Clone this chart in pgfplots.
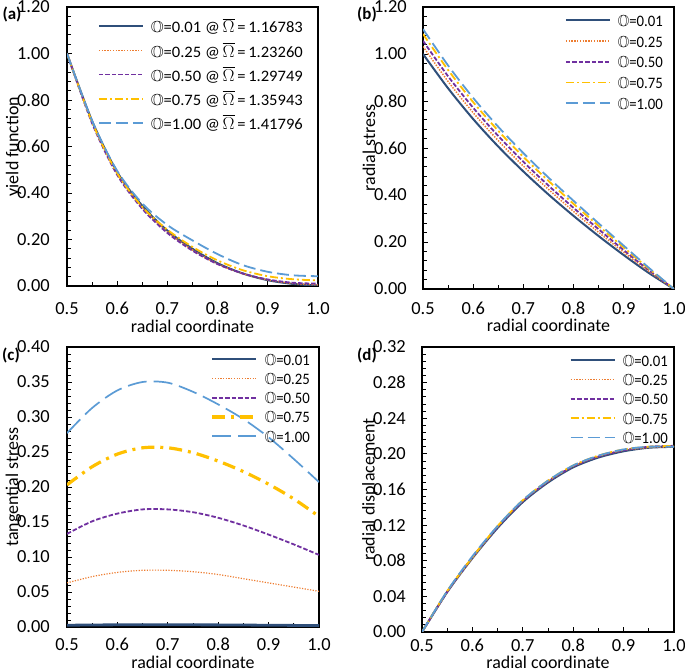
\documentclass[border=0pt]{standalone}
\usepackage{fontspec}
\setmainfont{Carlito}
\usepackage{amssymb}
\usepackage{graphicx}
\usepackage{pgfplots}
\usepackage{pgfplotstable}
\pgfplotsset{compat=1.18}

\definecolor{c1}{HTML}{2F4F7A}
\definecolor{c2}{HTML}{ED7D31}
\definecolor{c3}{HTML}{7030A0}
\definecolor{c4}{HTML}{FFC000}
\definecolor{c5}{HTML}{5B9BD5}

\newcommand{\lgf}{\fontsize{16}{16}\selectfont\rule[-4.5bp]{0pt}{18bp}}
\newcommand{\la}[2]{\lgf\resizebox{152bp}{\height}{$\mathbb{O}$=#1\ @\,$\overline{\Omega}$\,=\,#2}}
\newcommand{\lb}[1]{\lgf\resizebox{45bp}{\height}{$\mathbb{O}$=#1}}

\pgfplotstableread{
r     d1     d2     d3     d4     d5
0.50  1.000  1.000  1.000  1.000  1.000
0.55  0.710  0.705  0.700  0.705  0.710
0.60  0.490  0.483  0.478  0.485  0.495
0.65  0.345  0.338  0.332  0.340  0.355
0.70  0.238  0.232  0.228  0.242  0.262
0.75  0.160  0.155  0.152  0.168  0.196
0.80  0.098  0.095  0.094  0.110  0.137
0.85  0.054  0.053  0.054  0.068  0.090
0.90  0.025  0.026  0.028  0.042  0.061
0.95  0.009  0.011  0.014  0.029  0.046
1.00  0.002  0.005  0.010  0.024  0.042
}\tabA

\pgfplotstableread{
r     d1     d2     d3     d4     d5
0.50  1.000  1.032  1.056  1.085  1.106
0.55  0.854  0.883  0.905  0.932  0.951
0.60  0.723  0.750  0.771  0.795  0.813
0.65  0.606  0.631  0.651  0.673  0.690
0.70  0.500  0.523  0.541  0.562  0.578
0.75  0.402  0.424  0.440  0.460  0.474
0.80  0.311  0.330  0.345  0.362  0.375
0.85  0.225  0.241  0.254  0.268  0.279
0.90  0.144  0.156  0.165  0.176  0.184
0.95  0.068  0.075  0.080  0.086  0.090
1.00  0.000  0.000  0.000  0.000  0.000
}\tabB

\pgfplotstableread{
r     d1      d2     d3     d4     d5
0.50  0.0025  0.063  0.133  0.203  0.277
0.55  0.0029  0.072  0.151  0.229  0.313
0.60  0.0031  0.078  0.162  0.247  0.338
0.65  0.0032  0.081  0.168  0.256  0.350
0.70  0.0032  0.081  0.168  0.256  0.349
0.75  0.0031  0.079  0.164  0.249  0.336
0.80  0.0030  0.075  0.156  0.237  0.318
0.85  0.0028  0.069  0.145  0.222  0.297
0.90  0.0025  0.063  0.132  0.204  0.271
0.95  0.0023  0.057  0.118  0.183  0.240
1.00  0.0020  0.051  0.103  0.158  0.207
}\tabC

\pgfplotstableread{
r     d1     d2     d3     d4     d5
0.50  0.000  0.000  0.000  0.000  0.000
0.55  0.045  0.045  0.045  0.046  0.046
0.60  0.083  0.083  0.084  0.084  0.085
0.65  0.117  0.118  0.118  0.119  0.119
0.70  0.146  0.147  0.147  0.148  0.148
0.75  0.168  0.169  0.169  0.170  0.170
0.80  0.185  0.186  0.186  0.187  0.187
0.85  0.196  0.197  0.197  0.198  0.198
0.90  0.203  0.204  0.204  0.205  0.205
0.95  0.207  0.207  0.208  0.208  0.208
1.00  0.208  0.208  0.209  0.209  0.208
}\tabD

\pgfplotsset{
  panel/.style={
    scale only axis,
    xmin=0.5, xmax=1.0,
    xtick={0.5,0.6,0.7,0.8,0.9,1.0},
    minor x tick num=1,
    minor y tick num=4,
    tick pos=left,
    tick align=inside,
    major tick length=5bp,
    minor tick length=4bp,
    tick style={black, line width=0.8bp},
    axis line style={black, line width=1.6bp},
    ticklabel style={font=\fontsize{18.5}{18.5}\selectfont, inner sep=1bp},
    /pgf/number format/assume math mode=true,
    x tick label style={/pgf/number format/fixed, /pgf/number format/fixed zerofill, /pgf/number format/precision=1},
    y tick label style={/pgf/number format/fixed, /pgf/number format/fixed zerofill, /pgf/number format/precision=2},
    label style={font=\fontsize{18}{18}\selectfont, inner sep=0pt},
    legend style={draw=none, fill=none, inner sep=0pt,
      font=\fontsize{16}{16}\selectfont,
      /tikz/every odd column/.style={column sep=5bp},
      at={(1,1)}, anchor=north east},
    legend cell align=left,
    legend image code/.code={\draw[##1] (0bp,0bp) -- (44bp,0bp);},
    no markers,
  },
  s1/.style={c1, line width=2bp, solid, smooth},
  s2/.style={c2, line width=1.5bp, dash pattern=on 1.4bp off 1.4bp, smooth},
  s3/.style={c3, line width=1.8bp, dash pattern=on 4.5bp off 2bp, smooth},
  s4/.style={c4, line width=1.8bp, dash pattern=on 8bp off 3bp on 2bp off 3bp, smooth},
  s5/.style={c5, line width=1.8bp, dash pattern=on 12bp off 5bp, smooth},
}

\begin{document}
\begin{tikzpicture}
\useasboundingbox (0,0) rectangle (685bp,672bp);

% (a)
\begin{axis}[panel, at={(67bp,386bp)}, anchor=south west,
  width=251bp, height=279bp,
  ymin=0, ymax=1.2, ytick={0,0.2,0.4,0.6,0.8,1.0,1.2},
  xticklabel shift=15bp, yticklabel shift=16bp,
  xlabel={radial coordinate}, ylabel={yield function},
  xlabel style={at={(axis description cs:0.5,-0.143)}, anchor=center},
  ylabel style={at={(axis description cs:-0.213,0.5)}, anchor=center},
  legend style={xshift=-13bp, yshift=-8.7bp, row sep=3.8bp}]
\addplot[s1] table[x=r,y=d1] {\tabA};
\addlegendentry{\la{0.01}{1.16783}}
\addplot[s2] table[x=r,y=d2] {\tabA};
\addlegendentry{\la{0.25}{1.23260}}
\addplot[s3] table[x=r,y=d3] {\tabA};
\addlegendentry{\la{0.50}{1.29749}}
\addplot[s4] table[x=r,y=d4] {\tabA};
\addlegendentry{\la{0.75}{1.35943}}
\addplot[s5] table[x=r,y=d5] {\tabA};
\addlegendentry{\la{1.00}{1.41796}}
\end{axis}

% (b)
\begin{axis}[panel, at={(423bp,383bp)}, anchor=south west,
  width=251bp, height=282bp,
  ymin=0, ymax=1.2, ytick={0,0.2,0.4,0.6,0.8,1.0,1.2},
  xticklabel shift=12bp, yticklabel shift=15bp,
  xlabel={radial coordinate}, ylabel={radial stress},
  xlabel style={at={(axis description cs:0.5,-0.130)}, anchor=center},
  ylabel style={at={(axis description cs:-0.215,0.5)}, anchor=center},
  legend style={xshift=-9bp, yshift=-3.7bp, row sep=1.7bp}]
\addplot[s1] table[x=r,y=d1] {\tabB};
\addlegendentry{\lb{0.01}}
\addplot[s2] table[x=r,y=d2] {\tabB};
\addlegendentry{\lb{0.25}}
\addplot[s3] table[x=r,y=d3] {\tabB};
\addlegendentry{\lb{0.50}}
\addplot[s4] table[x=r,y=d4] {\tabB};
\addlegendentry{\lb{0.75}}
\addplot[s5] table[x=r,y=d5] {\tabB};
\addlegendentry{\lb{1.00}}
\end{axis}

% (c)
\begin{axis}[panel, at={(67bp,45bp)}, anchor=south west,
  width=252bp, height=280bp,
  ymin=0, ymax=0.4, ytick={0,0.05,0.1,0.15,0.2,0.25,0.3,0.35,0.4},
  xticklabel shift=10bp, yticklabel shift=16bp,
  xlabel={radial coordinate}, ylabel={tangential stress},
  xlabel style={at={(axis description cs:0.5,-0.125)}, anchor=center},
  ylabel style={at={(axis description cs:-0.213,0.5)}, anchor=center},
  legend style={xshift=-7bp, yshift=-2.4bp, row sep=0.3bp}]
\addplot[s1, line width=2.8bp] table[x=r,y=d1] {\tabC};
\addlegendentry{\lb{0.01}}
\addplot[s2, line width=1.2bp, dash pattern=on 1.2bp off 1.5bp] table[x=r,y=d2] {\tabC};
\addlegendentry{\lb{0.25}}
\addplot[s3, line width=1.8bp, dash pattern=on 4.5bp off 2bp] table[x=r,y=d3] {\tabC};
\addlegendentry{\lb{0.50}}
\addplot[s4, line width=3.2bp, dash pattern=on 13bp off 6bp on 3bp off 6bp] table[x=r,y=d4] {\tabC};
\addlegendentry{\lb{0.75}}
\addplot[s5, line width=1.7bp, dash pattern=on 19bp off 7bp] table[x=r,y=d5] {\tabC};
\addlegendentry{\lb{1.00}}
\end{axis}

% (d)
\begin{axis}[panel, at={(422bp,40bp)}, anchor=south west,
  width=252bp, height=285bp,
  ymin=0, ymax=0.32, ytick={0,0.04,0.08,0.12,0.16,0.2,0.24,0.28,0.32},
  xticklabel shift=6bp, yticklabel shift=15bp,
  xlabel={radial coordinate}, ylabel={radial displacement},
  xlabel style={at={(axis description cs:0.5,-0.107)}, anchor=center},
  ylabel style={at={(axis description cs:-0.207,0.5)}, anchor=center},
  legend style={xshift=-4bp, yshift=-3.7bp, row sep=0.3bp}]
\addplot[s1, line width=2.2bp] table[x=r,y=d1] {\tabD};
\addlegendentry{\lb{0.01}}
\addplot[s2] table[x=r,y=d2] {\tabD};
\addlegendentry{\lb{0.25}}
\addplot[s3] table[x=r,y=d3] {\tabD};
\addlegendentry{\lb{0.50}}
\addplot[s4] table[x=r,y=d4] {\tabD};
\addlegendentry{\lb{0.75}}
\addplot[s5] table[x=r,y=d5] {\tabD};
\addlegendentry{\lb{1.00}}
\end{axis}

\node[font=\fontsize{17}{17}\selectfont\bfseries] at (12bp,657bp) {(a)};
\node[font=\fontsize{17}{17}\selectfont\bfseries] at (367bp,657bp) {(b)};
\node[font=\fontsize{17}{17}\selectfont\bfseries] at (11bp,316bp) {(c)};
\node[font=\fontsize{17}{17}\selectfont\bfseries] at (367bp,316bp) {(d)};
\end{tikzpicture}
\end{document}
